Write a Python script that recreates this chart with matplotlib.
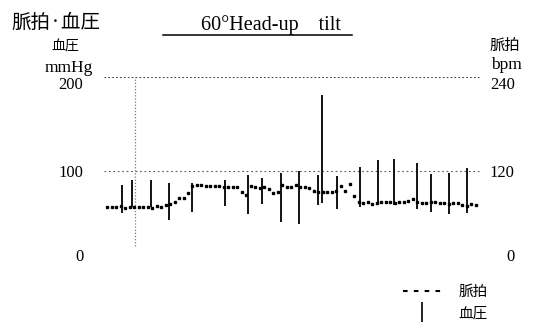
import numpy as np
import matplotlib
matplotlib.use("Agg")
import matplotlib.pyplot as plt
import matplotlib.transforms as mtransforms
from matplotlib.lines import Line2D

plt.rcParams['font.family'] = ['Liberation Serif', 'Noto Sans CJK JP', 'DejaVu Sans']
cjk = ['Noto Sans CJK JP', 'DejaVu Sans']

# pulse (bpm), one reading per time step
pulse = [74, 74, 74, 75, 73, 74, 74, 74, 74, 74, 73, 75, 74, 76, 78, 81, 85, 86, 92, 101,
         102, 102, 101, 101, 101, 101, 100, 100, 99, 100, 93, 89, 101, 100, 98, 99, 97, 92, 93, 102,
         100, 100, 102, 99, 100, 98, 95, 93, 93, 93, 93, 95, 101, 95, 104, 88, 80, 79, 80, 78,
         79, 80, 80, 80, 79, 80, 81, 82, 84, 80, 79, 79, 80, 80, 79, 79, 78, 79, 79, 76,
         75, 78, 77]
t_pulse = np.arange(len(pulse))

# blood pressure (mmHg) bars: time, systolic, diastolic
t_bp = [3.3, 5.6, 9.8, 13.8, 18.9, 26.2, 31.3, 34.4, 38.7, 42.7, 46.9, 47.8, 51.1,
        56.2, 60.2, 63.8, 68.9, 72.0, 76.0, 80.0]
sys_bp = [85, 90, 90, 87, 87, 90, 96, 93, 98, 100, 96, 181, 95, 104, 112, 113, 109, 97, 98, 103]
dia_bp = [55, 62, 62, 48, 56, 63, 54, 65, 46, 44, 64, 66, 60, 62, 66, 64, 60, 56, 54, 55]

tilt_start, tilt_end = 12.4, 54.4
ref_mark = 6.2

W, H = 533, 326
fig = plt.figure(figsize=(W / 100, H / 100), dpi=100)
ax = fig.add_axes([104 / W, 61 / H, 376 / W, 188 / H])

ax.set_xlim(-0.67, 82.9)
ax.set_ylim(0, 200)
for s in ax.spines.values():
    s.set_visible(False)
ax.set_xticks([])

# frame lines (dotted, as printed)
ax.axhline(200, color='#444444', lw=0.8, ls=(0, (1.5, 2)))
ax.axhline(100, color='#555555', lw=0.8, ls=(0, (1.5, 2.5)))
ax.axhline(0, color='#aaaaaa', lw=0.7, ls=(0, (1, 6)))
ax.axvline(ref_mark, ymin=0.1, ymax=1.01, color='#777777', lw=0.9, ls=(0, (1, 1.5)))

ax.vlines(t_bp, dia_bp, sys_bp, color='black', lw=1.3)
ax.plot(t_pulse, np.array(pulse) * 200 / 240, color='black', ls='none',
        marker='s', ms=1.9, mec='black', mfc='black')

ax.set_yticks([0, 100, 200])
ax.set_yticklabels(['0', '100', '200'], fontsize=12)
ax.tick_params(axis='y', length=0, pad=15)
lbls = ax.get_yticklabels()
lbls[0].set_va('bottom')
lbls[2].set_va('top')

ax2 = ax.twinx()
ax2.set_ylim(0, 240)
for s in ax2.spines.values():
    s.set_visible(False)
ax2.set_yticks([0, 120, 240])
ax2.set_yticklabels(['0', '120', '240'], fontsize=12)
ax2.tick_params(axis='y', length=0, pad=25)
for lb in ax2.get_yticklabels():
    lb.set_ha('right')
r = ax2.get_yticklabels()
r[0].set_va('bottom')
r[2].set_va('top')

# axis captions
fig.text(56 / W, 1 - 22 / H, '脈拍·血圧', family=cjk, fontsize=14, ha='center', va='center')
fig.text(65 / W, 1 - 47 / H, '血圧', family=cjk, fontsize=10, ha='center', va='center')
fig.text(69 / W, 1 - 68 / H, 'mmHg', fontsize=12.5, ha='center', va='center')
fig.text(505 / W, 1 - 45 / H, '脈拍', family=cjk, fontsize=11, ha='center', va='center')
fig.text(506 / W, 1 - 65 / H, 'bpm', fontsize=12.5, ha='center', va='center')

# tilt period
fig.text(271 / W, 1 - 30 / H, '60°Head-up    tilt', fontsize=14.5, ha='center', va='baseline')
trans = mtransforms.blended_transform_factory(ax.transData, fig.transFigure)
ax.plot([tilt_start, tilt_end], [1 - 35 / H, 1 - 35 / H], color='black', lw=1.1,
        transform=trans, clip_on=False)

handles = [Line2D([], [], color='black', lw=1.5, ls=(0, (2.2, 3.0))),
           Line2D([], [], color='black', marker='|', ls='none', ms=15, mew=1.2)]
fig.legend(handles, ['脈拍', '血圧'], prop={'family': cjk, 'size': 10.5},
           loc='upper left', bbox_to_anchor=(403 / W, 1 - 285 / H), frameon=False,
           handlelength=2.6, handletextpad=1.2, labelspacing=0.5, borderpad=0,
           borderaxespad=0)

fig.savefig('out.png', dpi=100)
